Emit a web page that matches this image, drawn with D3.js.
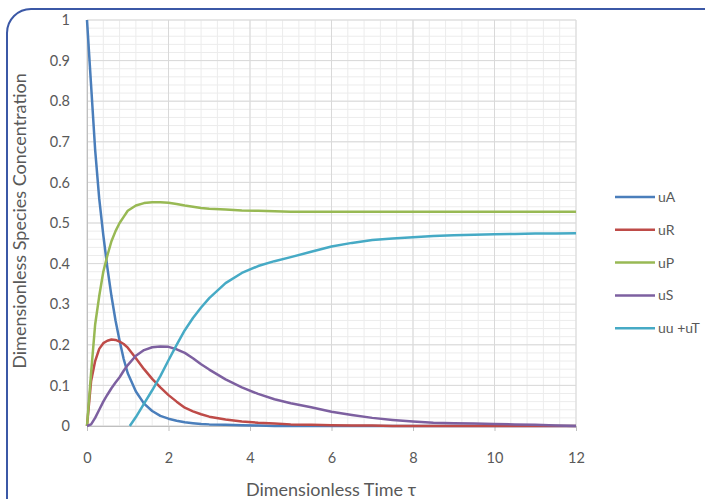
<!DOCTYPE html>
<html>
<head>
<meta charset="utf-8">
<script src="https://cdn.jsdelivr.net/npm/d3@7"></script>
<style>
  body { margin: 0; background: #fff; }
  text { font-family: Lato, "Open Sans", sans-serif; fill: #595959; }
</style>
</head>
<body>
<div id="chart"></div>
<script>
// time grid shared by uA, uR, uP, uS
const tau = [0, 0.1, 0.2, 0.3, 0.4, 0.5, 0.6, 0.7, 0.8, 0.9, 1.0, 1.2, 1.4, 1.6, 1.8, 2.0, 2.2, 2.4, 2.6, 2.8,
             3.0, 3.4, 3.8, 4.2, 4.6, 5.0, 5.5, 6, 6.5, 7, 7.5, 8, 8.5, 9, 9.5, 10, 10.5, 11, 11.5, 12];
const uA = [1, 0.84, 0.68, 0.56, 0.47, 0.39, 0.32, 0.26, 0.21, 0.165, 0.13, 0.085, 0.055, 0.037, 0.025, 0.018, 0.013, 0.009, 0.007, 0.005,
            0.004, 0.003, 0.002, 0.001, 0, 0, 0, 0, 0, 0, 0, 0, 0, 0, 0, 0, 0, 0, 0, 0];
const uR = [0, 0.11, 0.16, 0.19, 0.204, 0.21, 0.213, 0.212, 0.208, 0.202, 0.193, 0.167, 0.14, 0.116, 0.095, 0.076, 0.06, 0.045, 0.036, 0.029,
            0.023, 0.016, 0.011, 0.008, 0.006, 0.004, 0.003, 0.002, 0.001, 0.001, 0, 0, 0, 0, 0, 0, 0, 0, 0, 0];
const uP = [0, 0.13, 0.25, 0.32, 0.38, 0.42, 0.455, 0.48, 0.5, 0.515, 0.53, 0.543, 0.549, 0.551, 0.551, 0.55, 0.547, 0.543, 0.54, 0.537,
            0.535, 0.533, 0.531, 0.53, 0.529, 0.528, 0.528, 0.528, 0.528, 0.528, 0.528, 0.528, 0.528, 0.528, 0.528, 0.528, 0.528, 0.528, 0.528, 0.528];
const uS = [0, 0.004, 0.02, 0.04, 0.06, 0.077, 0.093, 0.107, 0.12, 0.136, 0.15, 0.173, 0.187, 0.194, 0.196, 0.195, 0.189, 0.18, 0.167, 0.152,
            0.139, 0.115, 0.095, 0.079, 0.066, 0.056, 0.046, 0.035, 0.027, 0.02, 0.015, 0.011, 0.008, 0.007, 0.006, 0.005, 0.004, 0.003, 0.001, 0];
// uu + uT starts later
const tauT = [1.05, 1.2, 1.4, 1.6, 1.8, 2.0, 2.2, 2.4, 2.6, 2.8, 3.0, 3.4, 3.8, 4.2, 4.6, 5.0, 5.5, 6, 6.5, 7, 7.5, 8, 8.5, 9, 9.5, 10, 10.5, 11, 11.5, 12];
const uT = [0, 0.022, 0.055, 0.088, 0.123, 0.162, 0.2, 0.236, 0.266, 0.292, 0.315, 0.352, 0.377, 0.394, 0.406, 0.416, 0.429, 0.442, 0.451, 0.458,
            0.462, 0.465, 0.468, 0.47, 0.471, 0.472, 0.473, 0.474, 0.474, 0.475];

const seriesNames = ["uA", "uR", "uP", "uS", "uu +uT"];
const colors = ["#4a7ebb", "#be4b48", "#98b954", "#7d60a0", "#46aac5"];
const xTicks = [0, 2, 4, 6, 8, 10, 12];
const yTicks = [0, 0.1, 0.2, 0.3, 0.4, 0.5, 0.6, 0.7, 0.8, 0.9, 1];

const series = [
    {name: seriesNames[0], x: tau, y: uA},
    {name: seriesNames[1], x: tau, y: uR},
    {name: seriesNames[2], x: tau, y: uP},
    {name: seriesNames[3], x: tau, y: uS},
    {name: seriesNames[4], x: tauT, y: uT}
];

const W = 705, H = 499;
const margin = {top: 20, right: 129, bottom: 73, left: 87};
const width = W - margin.left - margin.right;
const height = H - margin.top - margin.bottom;

const svg = d3.select("#chart").append("svg")
    .attr("width", W)
    .attr("height", H);

// outer rounded frame
svg.append("rect")
    .attr("x", 7).attr("y", 9)
    .attr("width", 720).attr("height", 540)
    .attr("rx", 24).attr("ry", 24)
    .attr("fill", "none")
    .attr("stroke", "#3b58a6")
    .attr("stroke-width", 2);

const g = svg.append("g")
    .attr("transform", "translate(" + margin.left + "," + margin.top + ")");

const x = d3.scaleLinear().domain([0, 12]).range([0, width]);
const y = d3.scaleLinear().domain([0, 1]).range([height, 0]);

// minor grid
g.append("g").selectAll("line")
    .data(d3.range(0, 12.001, 0.4))
    .join("line")
    .attr("x1", d => x(d)).attr("x2", d => x(d))
    .attr("y1", 0).attr("y2", height)
    .attr("stroke", "#ececec");
g.append("g").selectAll("line")
    .data(d3.range(0, 1.001, 0.02))
    .join("line")
    .attr("y1", d => y(d)).attr("y2", d => y(d))
    .attr("x1", 0).attr("x2", width)
    .attr("stroke", "#ececec");

// major grid
g.append("g").selectAll("line")
    .data(xTicks)
    .join("line")
    .attr("x1", d => x(d)).attr("x2", d => x(d))
    .attr("y1", 0).attr("y2", height)
    .attr("stroke", "#d9d9d9");
g.append("g").selectAll("line")
    .data(yTicks)
    .join("line")
    .attr("y1", d => y(d)).attr("y2", d => y(d))
    .attr("x1", 0).attr("x2", width)
    .attr("stroke", "#d9d9d9");

// axes
const xAxis = d3.axisBottom(x).tickValues(xTicks).tickSize(5).tickPadding(22).tickFormat(d3.format("d"));
const yAxis = d3.axisLeft(y).tickValues(yTicks).tickSize(0).tickPadding(17).tickFormat(d => d === 0 || d === 1 ? d : d.toFixed(1));

g.append("g")
    .attr("class", "x-axis")
    .attr("transform", "translate(0," + height + ")")
    .call(xAxis)
    .call(a => a.select(".domain").attr("stroke", "#bfbfbf"))
    .call(a => a.selectAll(".tick line").attr("stroke", "#bfbfbf"))
    .call(a => a.selectAll("text").style("font-size", "14.5px").attr("fill", "#595959"));

g.append("g")
    .attr("class", "y-axis")
    .call(yAxis)
    .call(a => a.select(".domain").attr("stroke", "#bfbfbf"))
    .call(a => a.selectAll("text").style("font-size", "14.5px").attr("fill", "#595959"));

// lines
const line = d3.line()
    .x(d => x(d[0]))
    .y(d => y(d[1]));

g.append("g").selectAll("path")
    .data(series)
    .join("path")
    .attr("fill", "none")
    .attr("stroke", (d, i) => colors[i])
    .attr("stroke-width", 2.5)
    .attr("stroke-linejoin", "round")
    .attr("d", d => line(d.x.map((t, i) => [t, d.y[i]])));

// axis titles
svg.append("text")
    .attr("x", 331)
    .attr("y", 496)
    .attr("text-anchor", "middle")
    .style("font-size", "18px")
    .text("Dimensionless Time τ");

svg.append("text")
    .attr("transform", "translate(26,221) rotate(-90)")
    .attr("text-anchor", "middle")
    .style("font-size", "18px")
    .text("Dimensionless Species Concentration");

// legend
const legend = svg.append("g")
    .attr("transform", "translate(615,197)");
const item = legend.selectAll("g")
    .data(seriesNames)
    .join("g")
    .attr("transform", (d, i) => "translate(0," + i * 32.8 + ")");
item.append("line")
    .attr("x1", 0).attr("x2", 40)
    .attr("stroke", (d, i) => colors[i])
    .attr("stroke-width", 2.5);
item.append("text")
    .attr("x", 43)
    .attr("dy", "0.35em")
    .style("font-size", "14px")
    .text(d => d);
</script>
</body>
</html>
